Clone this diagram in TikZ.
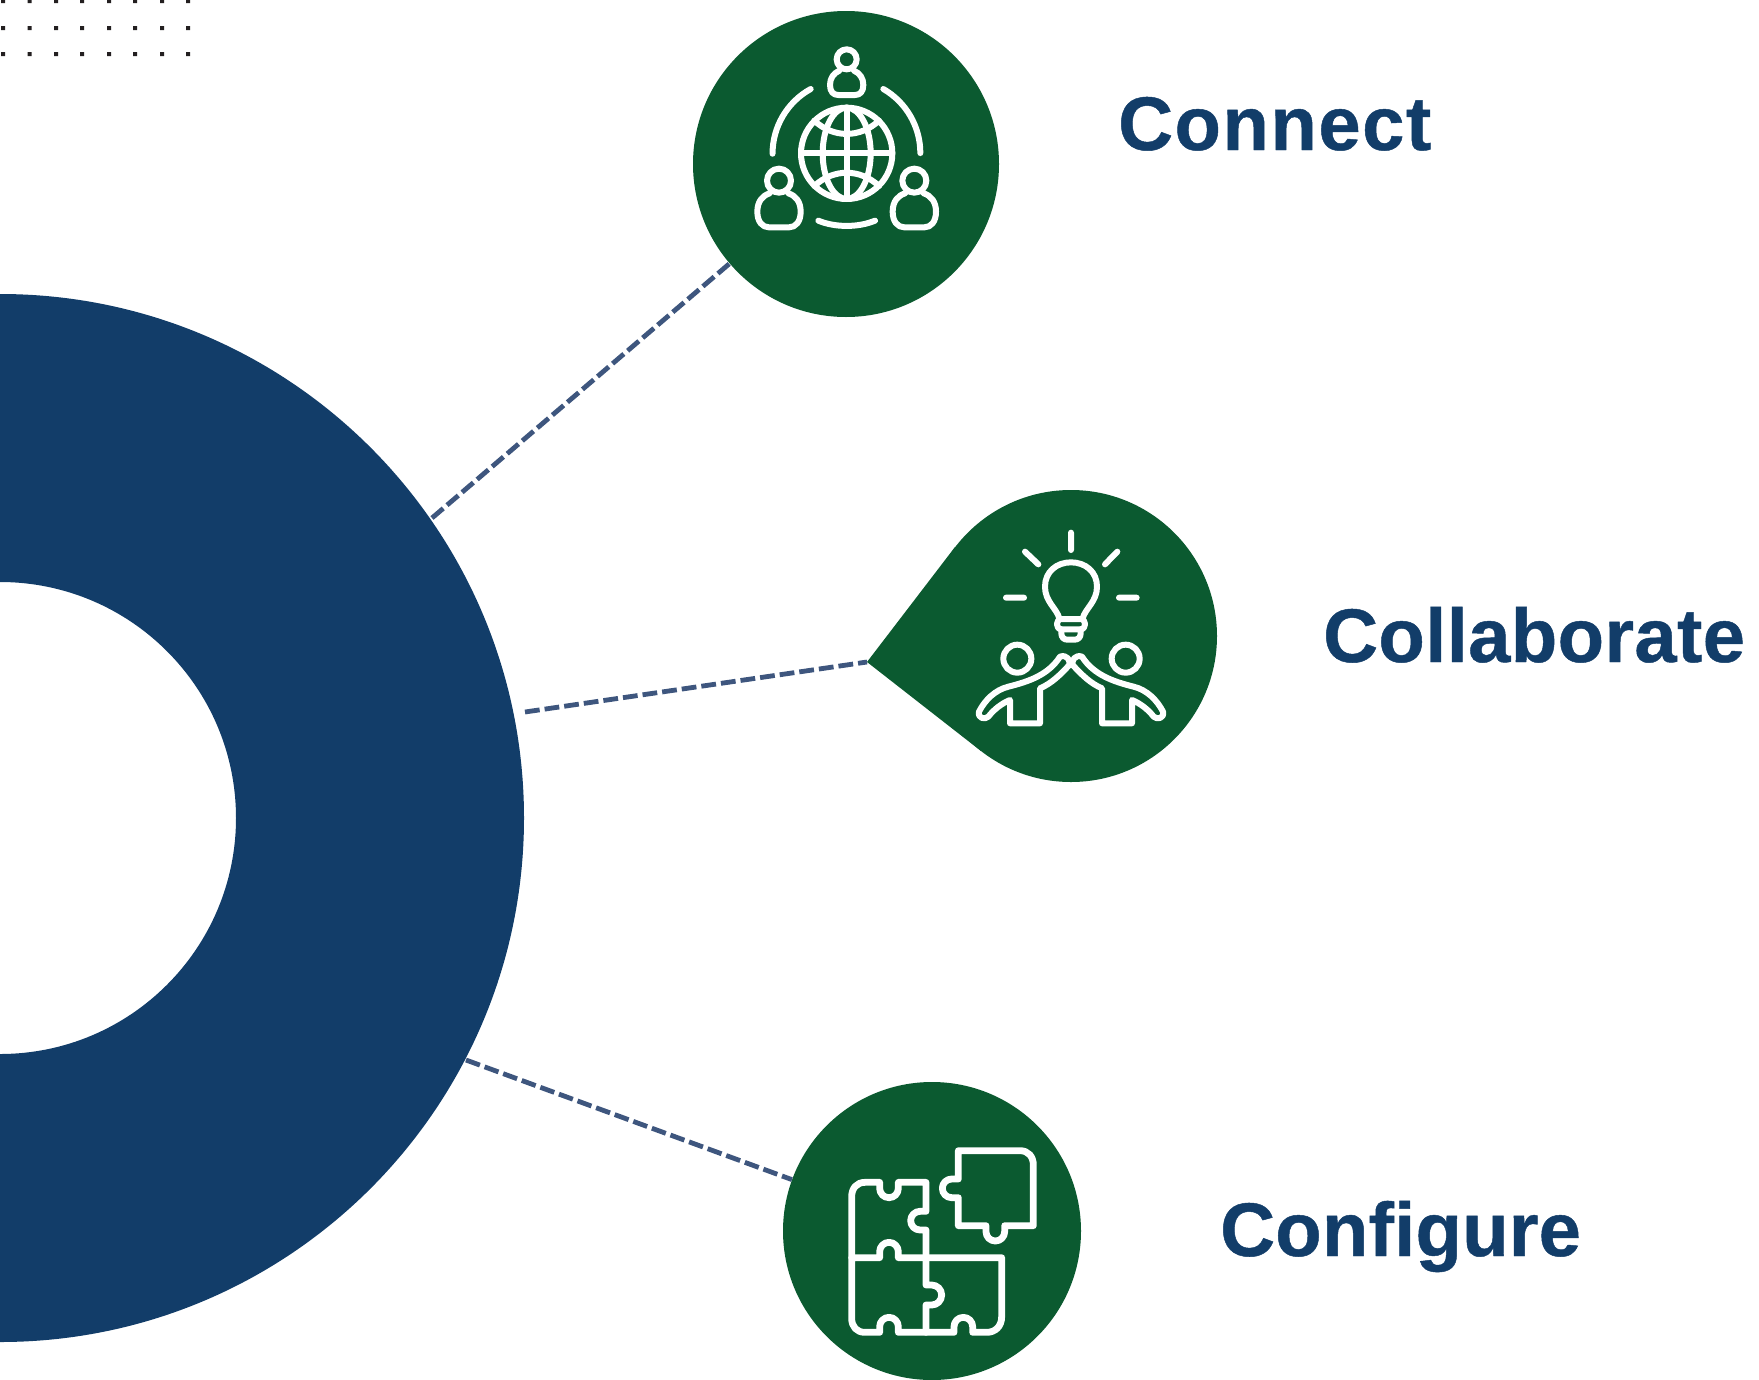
\documentclass[tikz,border=0pt]{standalone}
\usepackage{fontspec}
\setmainfont{Liberation Sans}
\newfontfamily\hubfont{Liberation Sans}[BoldFeatures={FakeBold=0.6}]
\usetikzlibrary{calc}
\definecolor{navyring}{RGB}{18,61,105}
\definecolor{hubgreen}{RGB}{11,90,48}
\definecolor{linkgrey}{RGB}{62,86,126}
\definecolor{dotgrey}{RGB}{35,31,32}
\tikzset{
hubcircle/.style={circle,fill=hubgreen,inner sep=0pt},
linkline/.style={draw=linkgrey,line width=4.8pt,dash pattern=on 14.8pt off 5pt},
iconline/.style={draw=white,line width=6pt,line cap=round,line join=round},
hubword/.style={text=navyring,font=\fontsize{76}{76}\selectfont\hubfont\bfseries,anchor=base west,inner sep=0pt},
}
\newcommand{\armfigure}{(240,505) .. controls (275,490) and (300,465) .. (328,435)
.. controls (332,420) and (320,403) .. (300,410)
.. controls (265,465) and (205,485) .. (145,500)
.. controls (105,510) and (75,540) .. (57,575)
.. controls (52,595) and (75,600) .. (85,590)
.. controls (100,570) and (125,550) .. (150,540) -- (150,610) -- (240,610) -- cycle}
\begin{document}
\begin{tikzpicture}[x=1pt,y=1pt,yscale=-1]
\useasboundingbox (0,0) rectangle (1759,1379);
\fill[dotgrey] \foreach \x in {3,29.5,56,82,109,135,162,188} {\foreach \y in {1,28,54} {(\x-2,\y-2) rectangle ++(4,4)}};
\fill[navyring] (0,294) arc[start angle=-90,end angle=90,radius=524] -- (0,1054) arc[start angle=90,end angle=-90,radius=236] -- cycle;
\node[hubcircle,minimum size=306pt] (connect) at (846,164) {};
\node[hubcircle,minimum size=292pt] (collaborate) at (1071,636) {};
\node[hubcircle,minimum size=298pt] (configure) at (932,1231) {};
\coordinate (tip) at (867,662);
\fill[hubgreen] (tip) -- (955,547) -- (1071,636) -- (981,751) -- cycle;
\coordinate (ringa) at (432,518);
\coordinate (ringb) at (525,712);
\coordinate (ringc) at (466,1060);
\draw[linkline] (ringa) -- (connect);
\draw[linkline] (ringb) -- (tip);
\draw[linkline] (ringc) -- (configure);
\node[hubword] (connectword) at (1118,150) {\addfontfeatures{LetterSpace=2.0}Connect};
\node[hubword] (collaborateword) at (1323,662) {\addfontfeatures{LetterSpace=0.5}Collaborate};
\node[hubword] (configureword) at (1220,1256) {\addfontfeatures{LetterSpace=0.3}Configure};
\begin{scope}[shift={(720,30)},scale=1/3]%globe
\draw[iconline] (380,370) circle (137);
\draw[iconline] (380,370) ellipse (72 and 137);
\draw[iconline] (380,233) -- (380,507) (243,370) -- (517,370);
\draw[iconline] (283,272) .. controls (340,325) and (420,325) .. (477,272);
\draw[iconline] (283,468) .. controls (340,415) and (420,415) .. (477,468);
\draw[iconline] (272,177) arc[start angle=241,end angle=180,radius=222];
\draw[iconline] (490,177) arc[start angle=-60,end angle=0,radius=222];
\draw[iconline] (295,572) .. controls (345,593) and (415,593) .. (465,572);
\draw[iconline] (380,88) circle (30);
\draw[iconline] (358,122) .. controls (340,130) and (330,145) .. (330,165) .. controls (330,185) and (340,195) .. (355,195) -- (405,195) .. controls (420,195) and (430,185) .. (430,165) .. controls (430,145) and (420,130) .. (402,122);
\foreach \hx in {177,583} {
\draw[iconline] (\hx,452) circle (36);
\draw[iconline] (\hx-28,490) .. controls (\hx-50,497) and (\hx-65,515) .. (\hx-65,545) .. controls (\hx-65,575) and (\hx-50,592) .. (\hx-30,592) -- (\hx+30,592) .. controls (\hx+50,592) and (\hx+65,575) .. (\hx+65,545) .. controls (\hx+65,515) and (\hx+50,497) .. (\hx+28,490);
}
\end{scope}
\begin{scope}[shift={(960,520)},scale=1/3]%bulb
\draw[iconline] (333,38) -- (333,90) (195,95) -- (235,133) (472,95) -- (435,133) (138,233) -- (192,233) (477,233) -- (530,233);
\draw[iconline] (298,295) .. controls (290,265) and (255,245) .. (255,200) .. controls (255,155) and (290,127) .. (333,127) .. controls (376,127) and (411,155) .. (411,200) .. controls (411,245) and (376,265) .. (368,295);
\draw[iconline] (305,297) -- (361,297) .. controls (380,297) and (380,328) .. (361,328) -- (305,328) .. controls (286,328) and (286,297) .. (305,297);
\draw[iconline] (304,328) -- (304,340) .. controls (304,352) and (312,359) .. (322,359) -- (344,359) .. controls (354,359) and (362,352) .. (362,340) -- (362,328);
\draw[iconline] (172,416) circle (42) (497,416) circle (42);
\draw[iconline] \armfigure;
\begin{scope}[shift={(666,0)},xscale=-1]
\draw[iconline] \armfigure;
\end{scope}
\end{scope}
\begin{scope}[shift={(830,1130)},scale=1/3,iconline/.append style={line width=6.8pt}]%puzzle
\draw[iconline] (385,62) -- (570,62) .. controls (595,62) and (610,80) .. (610,105) -- (610,287) -- (524,287) -- (524,305) arc[start angle=0,end angle=180,radius=28] -- (468,287) -- (385,287) -- (385,203) -- (365,203) arc[start angle=90,end angle=270,radius=28] -- (385,147) -- cycle;
\draw[iconline] (65,383) -- (65,200) .. controls (65,175) and (80,157) .. (105,157) -- (149,157) -- (149,175) arc[start angle=180,end angle=0,radius=28] -- (205,157) -- (288,157) -- (288,244) -- (270,244) arc[start angle=270,end angle=90,radius=28] -- (288,300) -- (288,465) -- (305,465) arc[start angle=-90,end angle=90,radius=30] -- (288,525) -- (288,607);
\draw[iconline] (65,383) -- (149,383) -- (149,365) arc[start angle=180,end angle=360,radius=28] -- (205,383) -- (515,383) -- (515,560) .. controls (515,590) and (495,607) .. (470,607) -- (428,607) -- (428,590) arc[start angle=0,end angle=-180,radius=28] -- (372,607) -- (205,607) -- (205,590) arc[start angle=0,end angle=-180,radius=28] -- (149,607) -- (105,607) .. controls (80,607) and (65,590) .. (65,565) -- (65,383);
\end{scope}
\end{tikzpicture}
\end{document}
